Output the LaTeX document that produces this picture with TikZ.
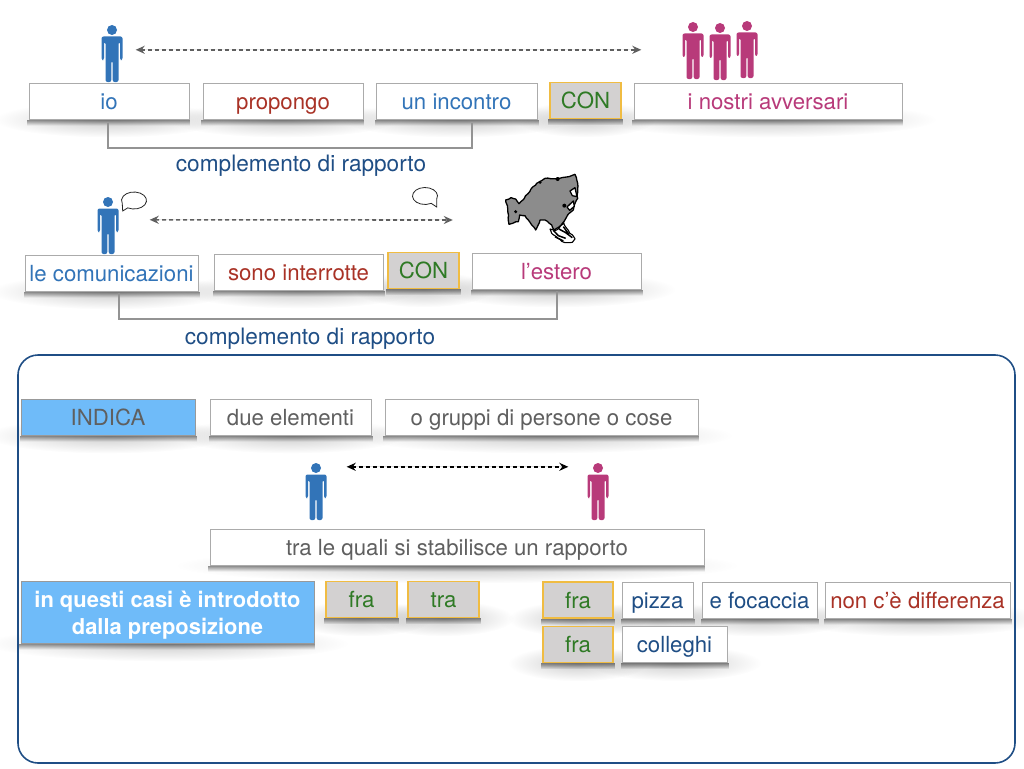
\documentclass[tikz,border=0pt]{standalone}
\usepackage{fontspec}
\setmainfont{TeX Gyre Heros}
\usetikzlibrary{arrows.meta,backgrounds,calc,fadings,decorations.pathmorphing}
\definecolor{ioblue}{HTML}{3274B8}
\definecolor{verbred}{HTML}{A93226}
\definecolor{otherpink}{HTML}{B83A7A}
\definecolor{prepgreen}{HTML}{2F7A25}
\definecolor{navyblue}{HTML}{1F4E85}
\definecolor{textgray}{HTML}{5F5F5F}
\definecolor{linegray}{HTML}{ABABAB}
\definecolor{prepfill}{HTML}{D3D1D1}
\definecolor{prepline}{HTML}{F0BC42}
\definecolor{skyfill}{HTML}{6FBBF9}
\tikzfading[name=softband,inner color=transparent!0,outer color=transparent!100]
\tikzset{
  wordbox/.style={draw=linegray,line width=1pt,fill=white,inner sep=0pt,minimum height=36pt,
    text height=17pt,text depth=1pt,font=\fontsize{22.2}{24}\selectfont},
  prepbox/.style={wordbox,draw=prepline,line width=1.6pt,fill=prepfill,text=prepgreen},
  skybox/.style={wordbox,fill=skyfill,draw=gray!80},
  ruletext/.style={inner sep=0pt,text=navyblue,font=\fontsize{22.6}{24}\selectfont},
  rapline/.style={draw=gray!85,line width=2pt},
  linkline/.style={<->,>={Stealth[length=9pt,width=8pt]},dashed,dash pattern=on 4pt off 3pt,line width=1.6pt},
  personnode/.style={inner sep=0pt,minimum width=21pt,minimum height=57pt},
  bubbleline/.style={draw=black!85,fill=white,line width=.8pt},
  softwide/.style={fill=black,opacity=.2,path fading=softband},
  softtight/.style={fill=black,opacity=.45,path fading=south}
}
\newcommand{\persona}[4]{%
  \node[personnode] (#1) at (#2,#3+28.5) {};
  \fill[#4,shift={(#2,#3)}] (0,5) circle (5pt);
  \fill[#4,shift={(#2,#3)},rounded corners=2pt] (-10.5,35)--(-10.5,11.5)--(10.5,11.5)--(10.5,35)--(8,35)--(8,17)
    --(6.5,17)--(6.5,57)--(.7,57)--(.7,36)--(-.7,36)--(-.7,57)--(-6.5,57)--(-6.5,17)--(-8,17)--(-8,35)--cycle;
}
\newcommand{\fumetto}[5]{%
  \draw[bubbleline,shift={(#1,#2)}] #5--(#3:12.5pt and 8.5pt) arc (#3:#4:12.5pt and 8.5pt)--cycle;
}
\begin{document}
\begin{tikzpicture}[x=1pt,y=-1pt]
    \useasboundingbox (0,0) rectangle (1024,768);
    \draw[navyblue,line width=1.6pt,rounded corners=20pt] (18,355) rectangle (1015,763);
    % prima frase
    \persona{pA}{112}{25}{ioblue}
    \persona{pB}{693}{22}{otherpink}
    \persona{pC}{720}{23}{otherpink}
    \persona{pD}{747}{21}{otherpink}
    \node[wordbox,minimum width=160pt,text=ioblue] (io) at (109,101) {io};
    \node[wordbox,minimum width=160pt,text=verbred] (propongo) at (283,101) {propongo};
    \node[wordbox,minimum width=161pt,text=ioblue] (incontro) at (456.5,101) {un incontro};
    \node[prepbox,minimum width=71pt] (conA) at (585.5,100.5) {CON};
    \node[wordbox,minimum width=268pt,text=otherpink] (avversari) at (768,101) {i nostri avversari};
    \draw[linkline,draw=textgray,fill=textgray] ([xshift=13pt,yshift=-25pt]pA.north east) -- ([xshift=-41pt,yshift=-28pt]pB.north west);
    \draw[rapline] ([xshift=-1pt,yshift=-3pt]io.south) -- ++(0,25) -| ([xshift=15.5pt,yshift=-3pt]incontro.south);
    \node[ruletext] (ruleA) at (301,166) {complemento di rapporto};
    % seconda frase
    \persona{pE}{108}{197}{ioblue}
    \fumetto{134}{200.5}{240}{560}{(-11.3,10.5)}
    \fumetto{425}{196}{-20}{300}{(11.7,11)}
    \node[inner sep=0pt,minimum width=73pt,minimum height=73pt] (asia) at (541.5,208.5) {};
    \begin{scope}[shift={(495,165)},x=.3333pt,y=-.3333pt]
      \draw[fill=black!45,draw=black,line width=1.3pt,line join=round,decorate,decoration={random steps,segment length=3pt,amplitude=.6pt}]
        (32,105)--(48,98)--(62,102)--(72,116)--(88,100)--(108,72)--(125,55)--(150,40)--(185,42)--(215,36)--(240,28)--(248,55)
        --(248,100)--(240,115)--(235,135)--(218,150)--(208,168)--(192,186)--(178,195)--(170,180)--(150,165)--(135,165)--(122,195)
        --(105,172)--(90,152)--(74,150)--(70,170)--(42,178)--(38,130)--cycle;
      \draw[fill=white,draw=black,line width=1.3pt,line join=round] (225,78)--(240,68)--(246,95)--(232,92)--cycle
        (216,126)--(235,108)--(238,124)--(224,136)--cycle;
      \draw[fill=white,draw=black,line width=1.1pt,line join=round,decorate,decoration={random steps,segment length=3pt,amplitude=.6pt}]
        (165,192)--(178,198)--(192,190)--(206,172)--(215,190)--(240,222)--(232,232)--(210,233)--(188,220)--(170,205)--cycle;
      \draw[black,line width=1.5pt,line join=round] (175,196)--(190,212)--(212,220) (192,192)--(212,203)--(232,218)
        (180,215)--(205,228) (205,185)--(222,208);
      \fill[black] (62,140) circle (5) (208,122) circle (6) (135,52) circle (5) (188,42) circle (6);
    \end{scope}
    \node[wordbox,minimum width=173pt,text=ioblue] (comunic) at (111.5,273) {le comunicazioni};
    \node[wordbox,minimum width=169pt,text=verbred] (interrotte) at (298.5,272) {sono interrotte};
    \node[prepbox,minimum width=71pt] (conB) at (423.5,270.5) {CON};
    \node[wordbox,minimum width=169pt,text=otherpink] (estero) at (556.5,271) {l’estero};
    \draw[linkline,draw=textgray,fill=textgray] ([xshift=31pt,yshift=-23pt]pE.north east) -- ([xshift=-52pt,yshift=-11.5pt]asia.west);
    \draw[rapline] ([xshift=7.5pt,yshift=-1pt]comunic.south) -- ++(0,26) -| ([yshift=-1pt]estero.south);
    \node[ruletext] (ruleB) at (310,339) {complemento di rapporto};
    % riquadro
    \node[skybox,minimum width=174pt,text=textgray] (indica) at (108,417) {INDICA};
    \node[wordbox,minimum width=161pt,text=textgray] (elementi) at (290.5,417) {due elementi};
    \node[wordbox,minimum width=313pt,text=textgray] (gruppi) at (541.5,417) {o gruppi di persone o cose};
    \persona{pF}{316}{463}{ioblue}
    \persona{pG}{598}{463}{otherpink}
    \draw[linkline,draw=black,fill=black] ([xshift=20pt,yshift=-4pt]pF.north east) -- ([xshift=-19pt,yshift=-4pt]pG.north west);
    \node[wordbox,minimum width=494pt,text=textgray] (quali) at (457,547) {tra le quali si stabilisce un rapporto};
    \node[skybox,minimum width=293pt,minimum height=62pt,text=white,align=center,text height=,text depth=,font=\fontsize{21.9}{27}\selectfont\bfseries] (casi) at (167.5,612) {\rule{0pt}{22pt}in questi casi è introdotto\\dalla preposizione};
    \node[prepbox,minimum width=71pt] (fraA) at (361.5,599.5) {fra};
    \node[prepbox,minimum width=71pt] (traA) at (443.5,599.5) {tra};
    \node[prepbox,minimum width=70pt] (fraB) at (578,600) {fra};
    \node[wordbox,minimum width=71pt,text=navyblue] (pizza) at (657.5,600) {pizza};
    \node[wordbox,minimum width=115pt,text=navyblue] (focaccia) at (759.5,600) {e focaccia};
    \node[wordbox,minimum width=185pt,text=verbred] (differenza) at (917.5,600) {non c’è differenza};
    \node[prepbox,minimum width=70pt] (fraC) at (578,644.5) {fra};
    \node[wordbox,minimum width=105pt,text=navyblue] (colleghi) at (674.5,644.5) {colleghi};
    % ombre
    \begin{scope}[on background layer]
      \foreach \nm in {io,propongo,incontro,conA,avversari,comunic,interrotte,conB,estero,indica,elementi,gruppi,quali,casi,fraA,traA,fraB,pizza,focaccia,differenza,fraC,colleghi}{
        \fill[softwide] let \p1=($(\nm.south east)-(\nm.south west)$) in (\nm.south) ellipse ({.5*\x1+34pt} and 18pt);
        \fill[softtight] ([xshift=-1pt]\nm.south west) rectangle ([xshift=1pt,yshift=-6pt]\nm.south east);
      }
    \end{scope}
\end{tikzpicture}
\end{document}
